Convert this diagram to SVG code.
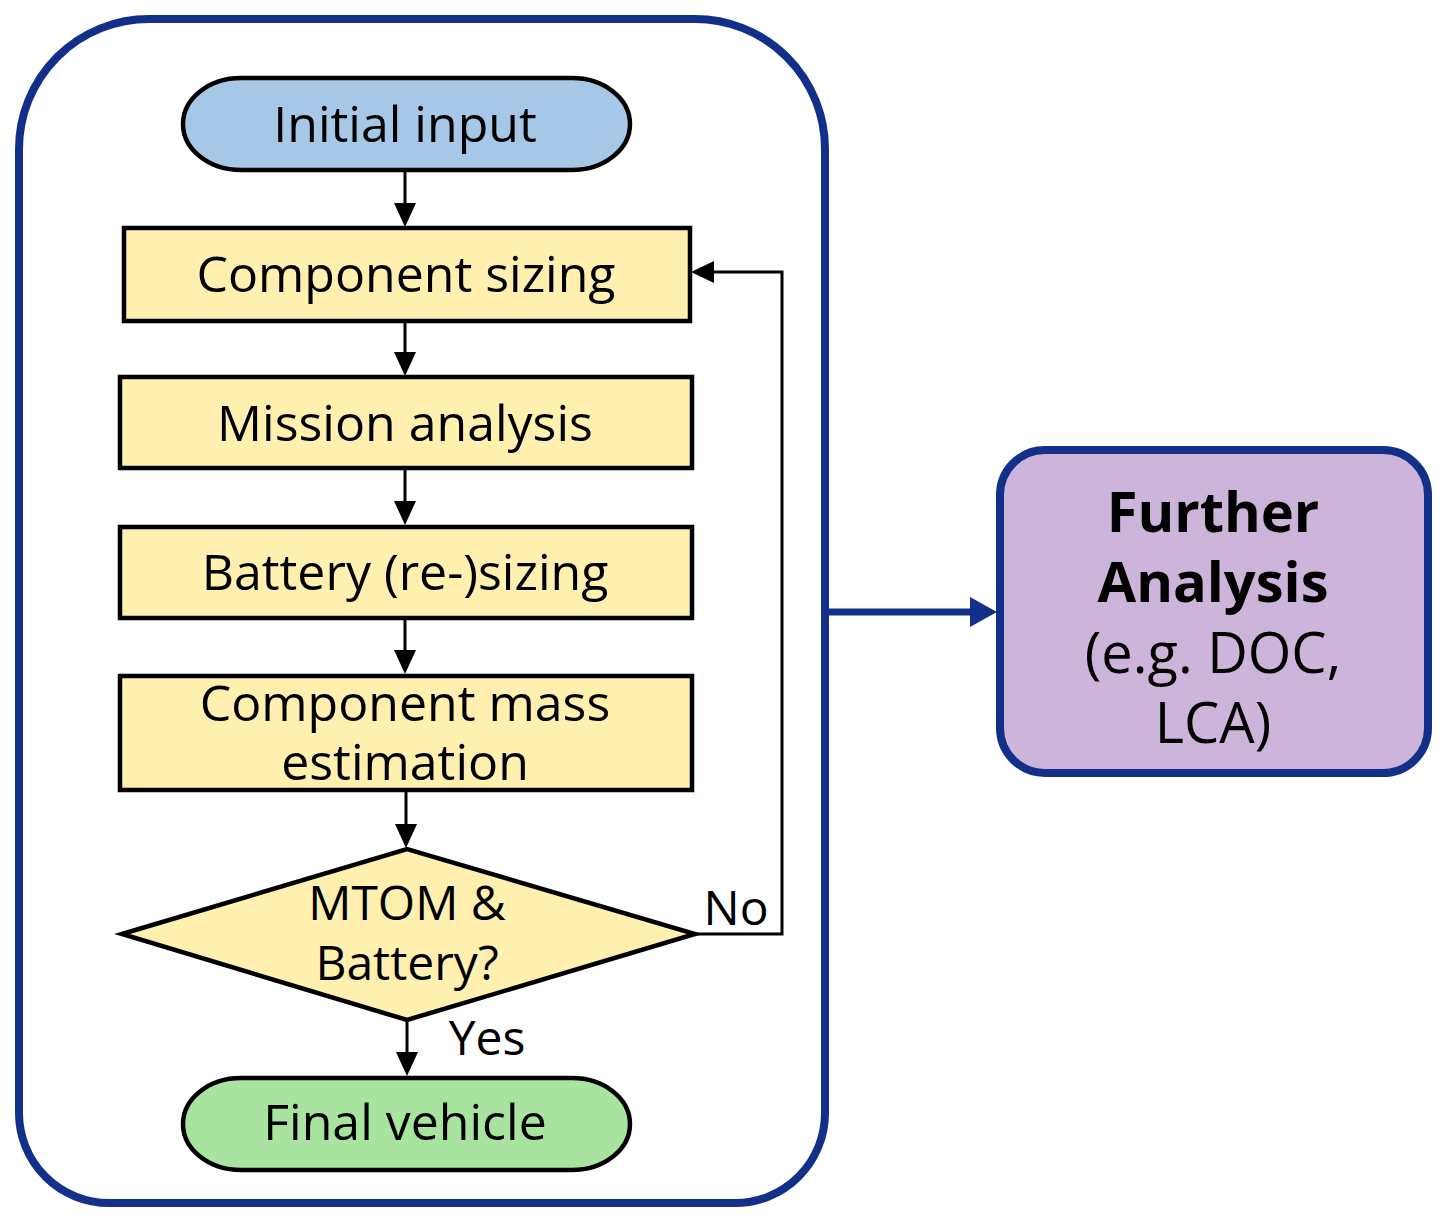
<svg xmlns="http://www.w3.org/2000/svg" width="1449" height="1227" viewBox="0 0 1449 1227">
<style>
text{font-family:"Open Sans","Noto Sans","DejaVu Sans",sans-serif;fill:#000;text-anchor:middle}
.t{font-size:50px}
.s{font-size:48px}
.r{font-size:56px}
.proc{fill:#FFF0B0;stroke:#000;stroke-width:4.5}
.conn{fill:none;stroke:#000;stroke-width:3}
.b{font-weight:bold}
</style>
<g id="container">
<path d="M149,19 H695 A130,130 0 0 1 825,149 V1113 A90,90 0 0 1 735,1203 H109 A90,90 0 0 1 19,1113 V149 A130,130 0 0 1 149,19 Z" fill="#fff" stroke="#12308A" stroke-width="8"/>
</g>
<g id="connectors">
<path class="conn" d="M405,170 V205"/>
<path d="M394,203 L416,203 L405,227 Z"/>
<path class="conn" d="M405,321 V354"/>
<path d="M394,352 L416,352 L405,376 Z"/>
<path class="conn" d="M405,468 V503"/>
<path d="M394,501 L416,501 L405,525 Z"/>
<path class="conn" d="M405,618 V652"/>
<path d="M394,650 L416,650 L405,674 Z"/>
<path class="conn" d="M406,790 V826"/>
<path d="M395,824 L417,824 L406,848 Z"/>
<path class="conn" d="M407,1020 V1054"/>
<path d="M396,1052 L418,1052 L407,1076 Z"/>
<path class="conn" d="M695,934 H782 V272 H712"/>
<path d="M714,261 L714,283 L691,272 Z"/>
<path d="M825,612 H975" fill="none" stroke="#12308A" stroke-width="7"/>
<path d="M970,597 L970,627 L997,612 Z" fill="#12308A"/>
<text class="s" x="736" y="925">No</text>
<text class="s" x="487" y="1055">Yes</text>
</g>
<g id="initial">
<rect x="183" y="78" width="447" height="92" rx="58" ry="46" fill="#A7C7E7" stroke="#000" stroke-width="4.5"/>
<text class="t" x="405" y="142">Initial input</text>
</g>
<g id="sizing">
<rect class="proc" x="124" y="228" width="566" height="93"/>
<text class="t" x="406" y="292">Component sizing</text>
</g>
<g id="mission">
<rect class="proc" x="120" y="377" width="572" height="91"/>
<text class="t" x="405" y="441">Mission analysis</text>
</g>
<g id="battery">
<rect class="proc" x="120" y="527" width="572" height="91"/>
<text class="t" x="405" y="590">Battery (re-)sizing</text>
</g>
<g id="mass">
<rect class="proc" x="120" y="676" width="572" height="114"/>
<text class="t" x="405" y="721">Component mass</text>
<text class="t" x="405" y="780">estimation</text>
</g>
<g id="decision">
<path class="proc" d="M122,934 L407,849 L695,934 L407,1020 Z"/>
<text class="s" x="407" y="920">MTOM &amp;</text>
<text class="s" x="407" y="980">Battery?</text>
</g>
<g id="final">
<rect x="183" y="1078" width="447" height="92" rx="58" ry="46" fill="#A8E4A0" stroke="#000" stroke-width="4.5"/>
<text class="t" x="405" y="1140">Final vehicle</text>
</g>
<g id="further">
<rect x="1000" y="450" width="428" height="323" rx="45" fill="#CDB4DA" stroke="#12308A" stroke-width="8"/>
<text class="r b" x="1213" y="532">Further</text>
<text class="r b" x="1213" y="602">Analysis</text>
<text class="r" x="1213" y="673">(e.g. DOC,</text>
<text class="r" x="1213" y="743">LCA)</text>
</g>
</svg>
